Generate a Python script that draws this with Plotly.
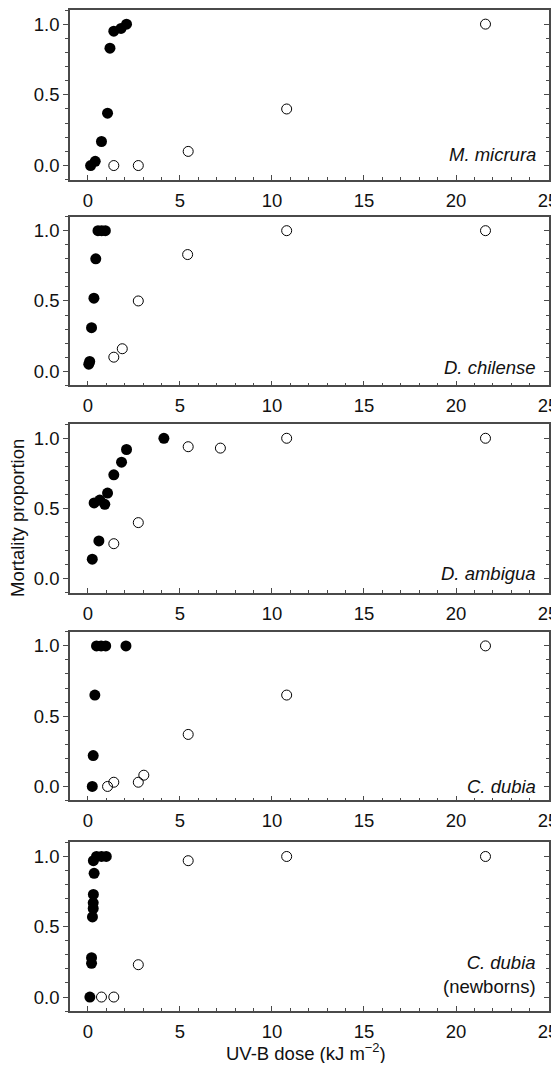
import plotly.graph_objects as go

# ---------------- data ----------------
species = ["M. micrura", "D. chilense", "D. ambigua", "C. dubia", "C. dubia"]

mm_filled_x = [0.15, 0.4, 0.74, 1.07, 1.2, 1.41, 1.8, 2.1]
mm_filled_y = [0.0, 0.03, 0.17, 0.37, 0.83, 0.95, 0.97, 1.0]
mm_open_x = [1.41, 2.74, 5.45, 10.8, 21.6]
mm_open_y = [0.0, 0.0, 0.1, 0.4, 1.0]

dc_filled_x = [0.05, 0.1, 0.2, 0.33, 0.43, 0.55, 0.75, 0.95]
dc_filled_y = [0.05, 0.07, 0.31, 0.52, 0.8, 1.0, 1.0, 1.0]
dc_open_x = [1.41, 1.87, 2.74, 5.42, 10.8, 21.6]
dc_open_y = [0.1, 0.16, 0.5, 0.83, 1.0, 1.0]

da_filled_x = [0.24, 0.34, 0.6, 0.65, 0.92, 1.07, 1.41, 1.83, 2.1, 4.13]
da_filled_y = [0.14, 0.54, 0.27, 0.56, 0.53, 0.61, 0.74, 0.83, 0.92, 1.0]
da_open_x = [1.41, 2.74, 5.45, 7.2, 10.8, 21.6]
da_open_y = [0.25, 0.4, 0.94, 0.93, 1.0, 1.0]

cd_filled_x = [0.24, 0.29, 0.38, 0.47, 0.72, 0.97, 2.07]
cd_filled_y = [0.0, 0.22, 0.65, 1.0, 1.0, 1.0, 1.0]
cd_open_x = [1.07, 1.41, 2.74, 3.04, 5.45, 10.8, 21.6]
cd_open_y = [0.0, 0.03, 0.03, 0.08, 0.37, 0.65, 1.0]

cdn_filled_x = [0.11, 0.2, 0.2, 0.25, 0.29, 0.29, 0.3, 0.34, 0.3, 0.47, 0.74, 1.0]
cdn_filled_y = [0.0, 0.24, 0.28, 0.57, 0.63, 0.67, 0.73, 0.88, 0.97, 1.0, 1.0, 1.0]
cdn_open_x = [0.74, 1.41, 2.74, 5.45, 10.8, 21.6]
cdn_open_y = [0.0, 0.0, 0.23, 0.97, 1.0, 1.0]

x_ticks = [0, 5, 10, 15, 20, 25]
y_ticks = [0.0, 0.5, 1.0]
y_ticktext = ["0.0", "0.5", "1.0"]

panels = [
    (mm_filled_x, mm_filled_y, mm_open_x, mm_open_y),
    (dc_filled_x, dc_filled_y, dc_open_x, dc_open_y),
    (da_filled_x, da_filled_y, da_open_x, da_open_y),
    (cd_filled_x, cd_filled_y, cd_open_x, cd_open_y),
    (cdn_filled_x, cdn_filled_y, cdn_open_x, cdn_open_y),
]

# ---------------- layout geometry ----------------
# page pixels; the page body adds an 8px margin, so the figure is offset by OFF
OFF = 8
W, H = 559 - OFF, 1071 - 2 * OFF
PL, PR = 70, 549                      # plot-area left/right on the page
panel_px = [(8, 178), (215, 384), (423, 592), (631, 800), (842, 1011)]
label_mid_px = [153, 366, 573, 786, None]

FONT = "Liberation Sans, Arial, Helvetica, sans-serif"
LINE = "#4a4a4a"
TXT = "#111111"
FS = 18.5


def fy(p):
    return 1 - (p - OFF) / H


def fx(p):
    return (p - PL) / (PR - PL)


fig = go.Figure()

for i, (fxv, fyv, ox, oy) in enumerate(panels):
    n = i + 1
    xa = "x" if n == 1 else f"x{n}"
    ya = "y" if n == 1 else f"y{n}"
    fig.add_trace(go.Scatter(
        x=ox, y=oy, mode="markers", xaxis=xa, yaxis=ya, showlegend=False,
        marker=dict(symbol="circle-open", size=10, color="black", line=dict(width=1, color="black")),
        cliponaxis=False,
    ))
    fig.add_trace(go.Scatter(
        x=fxv, y=fyv, mode="markers", xaxis=xa, yaxis=ya, showlegend=False,
        marker=dict(symbol="circle", size=11, color="black", line=dict(width=0)),
        cliponaxis=False,
    ))
    fig.add_trace(go.Scatter(x=[None], y=[None], mode="markers", xaxis=xa, yaxis=f"y{n + 5}",
                             showlegend=False, hoverinfo="skip"))

layout = dict(
    width=W, height=H,
    margin=dict(l=PL - OFF, r=W - (PR - OFF), t=0, b=0, pad=0),
    paper_bgcolor="white", plot_bgcolor="white",
    font=dict(family=FONT, size=FS, color=TXT),
    showlegend=False,
)

annotations = []
for i, (top, bot) in enumerate(panel_px):
    n = i + 1
    xkey = "xaxis" if n == 1 else f"xaxis{n}"
    ykey = "yaxis" if n == 1 else f"yaxis{n}"
    yref = "y" if n == 1 else f"y{n}"
    xref = "x" if n == 1 else f"x{n}"
    dom = [fy(bot), fy(top)]
    layout[xkey] = dict(
        domain=[0, 1], anchor=yref, range=[-0.97, 25.05],
        tickmode="array", tickvals=x_ticks, ticks="inside", ticklen=5, tickwidth=1,
        tickcolor=LINE, showline=True, linecolor=LINE, linewidth=1.5, mirror=True,
        showgrid=False, zeroline=False, ticklabelstandoff=3,
        minor=dict(dtick=1, ticks="inside", ticklen=3, tickcolor=LINE, tickwidth=1, showgrid=False),
        tickfont=dict(size=FS),
    )
    layout[ykey] = dict(
        domain=dom, anchor=xref, range=[-0.1, 1.1],
        tickmode="array", tickvals=y_ticks, ticktext=y_ticktext,
        ticks="outside", ticklen=5, tickwidth=1, tickcolor=LINE,
        showline=True, linecolor=LINE, linewidth=1.5, mirror=True,
        showgrid=False, zeroline=False,
        minor=dict(dtick=0.1, tick0=0, ticks="outside", ticklen=3, tickcolor=LINE, tickwidth=1, showgrid=False),
        tickfont=dict(size=FS),
    )
    layout[f"yaxis{n + 5}"] = dict(
        overlaying=yref, anchor=xref, side="right", range=[-0.1, 1.1],
        tickmode="array", tickvals=y_ticks, showticklabels=False,
        ticks="inside", ticklen=5, tickwidth=1, tickcolor=LINE,
        showline=False, showgrid=False, zeroline=False,
        minor=dict(dtick=0.1, tick0=0, ticks="inside", ticklen=3, tickcolor=LINE, tickwidth=1, showgrid=False),
    )
    if label_mid_px[i] is not None:
        annotations.append(dict(
            text=f"<i>{species[i]}</i>", xref=f"{xref} domain", yref=f"{yref} domain",
            x=fx(538), y=(bot - label_mid_px[i]) / (bot - top), xanchor="right", yanchor="middle",
            showarrow=False, font=dict(size=FS, family=FONT, color=TXT),
        ))
    else:
        annotations.append(dict(
            text=f"<i>{species[i]}</i><br>(newborns)", xref=f"{xref} domain", yref=f"{yref} domain",
            x=fx(538), y=(bot - 974) / (bot - top), xanchor="right", yanchor="middle", align="right",
            showarrow=False, font=dict(size=FS, family=FONT, color=TXT),
        ))

annotations.append(dict(
    text="Mortality proportion", xref="paper", yref="paper",
    x=fx(17), y=fy(517), xanchor="center", yanchor="middle",
    textangle=-90, showarrow=False, font=dict(size=FS, family=FONT, color=TXT),
))
annotations.append(dict(
    text="UV-B dose (kJ m<sup>\u22122</sup>)", xref="paper", yref="paper",
    x=fx(306), y=fy(1051.5), xanchor="center", yanchor="middle",
    showarrow=False, font=dict(size=FS, family=FONT, color=TXT),
))
layout["annotations"] = annotations

fig.update_layout(**layout)
fig.write_html("out.html")
